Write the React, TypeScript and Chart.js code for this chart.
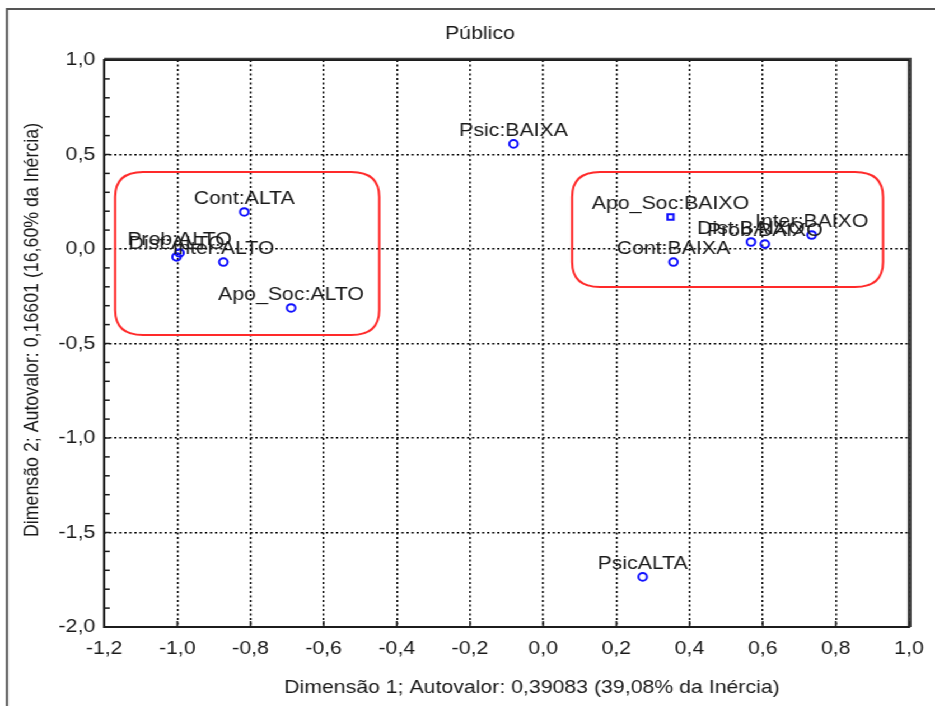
import { useEffect, useRef } from 'react';
import { Chart, registerables } from 'chart.js';

Chart.register(...registerables);

// Category points of the correspondence analysis (Dimensão 1 × Dimensão 2)
const categories = [
  'Psic:BAIXA',
  'Cont:ALTA',
  'Prob:ALTO',
  'Dist:ALTO',
  'Inter:ALTO',
  'Apo_Soc:ALTO',
  'Apo_Soc:BAIXO',
  'Cont:BAIXA',
  'Dist:BAIXO',
  'Prob:BAIXO',
  'Inter:BAIXO',
  'PsicALTA',
];
const dim1 = [-0.081, -0.817, -0.994, -1.002, -0.874, -0.689, 0.348, 0.356, 0.568, 0.606, 0.734, 0.272];
const dim2 = [0.556, 0.196, -0.021, -0.042, -0.069, -0.312, 0.169, -0.069, 0.037, 0.026, 0.074, -1.735];

// Group outlines, in axis units: [xMin, xMax, yMax, yMin]
const groupLow = [-1.17, -0.448, 0.407, -0.455];
const groupHigh = [0.079, 0.929, 0.407, -0.201];

const chartTitle = 'Público';
const xTitle = 'Dimensão 1; Autovalor: 0,39083 (39,08% da Inércia)';
const yTitle = 'Dimensão 2; Autovalor: 0,16601 (16,60% da Inércia)';

const FONT = "'Liberation Sans', Arial, sans-serif";
const STRETCH = 1.1198;
const W = 835;
const H = 706;

const fmt = (v: number) => {
  const r = Math.abs(v) < 1e-9 ? 0 : v;
  return r.toFixed(1).replace('.', ',');
};
const isHalf = (v: number) => Math.abs(v * 2 - Math.round(v * 2)) < 1e-6;

function roundRect(ctx: CanvasRenderingContext2D, x0: number, y0: number, x1: number, y1: number, r: number) {
  ctx.beginPath();
  ctx.moveTo(x0 + r, y0);
  ctx.lineTo(x1 - r, y0);
  ctx.quadraticCurveTo(x1, y0, x1, y0 + r);
  ctx.lineTo(x1, y1 - r);
  ctx.quadraticCurveTo(x1, y1, x1 - r, y1);
  ctx.lineTo(x0 + r, y1);
  ctx.quadraticCurveTo(x0, y1, x0, y1 - r);
  ctx.lineTo(x0, y0 + r);
  ctx.quadraticCurveTo(x0, y0, x0 + r, y0);
  ctx.closePath();
}

const decorations = {
  id: 'decorations',
  beforeDraw(chart: any) {
    const { ctx, width, height } = chart;
    ctx.save();
    ctx.fillStyle = '#ffffff';
    ctx.fillRect(0, 0, width, height);
    // outer panel frame
    ctx.strokeStyle = '#555555';
    ctx.lineWidth = 2;
    ctx.beginPath();
    ctx.moveTo(6.2, height);
    ctx.lineTo(6.2, 9);
    ctx.lineTo(width, 9);
    ctx.stroke();
    ctx.restore();
  },
  afterDatasetsDraw(chart: any) {
    const { ctx, chartArea: a, scales } = chart;
    const xs = scales.x;
    const ys = scales.y;
    ctx.save();

    // red group outlines
    ctx.strokeStyle = '#ff2a2a';
    ctx.lineWidth = 2;
    for (const g of [groupLow, groupHigh]) {
      roundRect(
        ctx,
        xs.getPixelForValue(g[0]),
        ys.getPixelForValue(g[2]),
        xs.getPixelForValue(g[1]),
        ys.getPixelForValue(g[3]),
        25,
      );
      ctx.stroke();
    }

    // point labels, centred above each marker
    const meta = chart.getDatasetMeta(0);
    ctx.fillStyle = '#1a1a1a';
    ctx.font = `19px ${FONT}`;
    ctx.textAlign = 'center';
    ctx.textBaseline = 'alphabetic';
    meta.data.forEach((el: any, i: number) => {
      ctx.fillText(categories[i], el.x, el.y - 8);
    });

    // plot frame
    ctx.strokeStyle = '#1c1c1c';
    ctx.lineWidth = 2;
    ctx.strokeRect(a.left, a.top, a.right - a.left, a.bottom - a.top);
    ctx.strokeStyle = '#444444';
    ctx.lineWidth = 1.5;
    ctx.beginPath();
    ctx.moveTo(a.left, a.top - 1.5);
    ctx.lineTo(a.right + 1.5, a.top - 1.5);
    ctx.lineTo(a.right + 1.5, a.bottom);
    ctx.stroke();

    // inner tick marks
    ctx.strokeStyle = '#1c1c1c';
    ctx.lineWidth = 1.5;
    ys.ticks.forEach((t: any) => {
      const py = ys.getPixelForValue(t.value);
      ctx.beginPath();
      ctx.moveTo(a.left, py);
      ctx.lineTo(a.left + 5, py);
      ctx.stroke();
    });
    xs.ticks.forEach((t: any) => {
      const px = xs.getPixelForValue(t.value);
      ctx.beginPath();
      ctx.moveTo(px, a.bottom);
      ctx.lineTo(px, a.bottom - 6);
      ctx.stroke();
    });

    // titles
    ctx.fillStyle = '#1a1a1a';
    ctx.textAlign = 'center';
    ctx.textBaseline = 'middle';
    ctx.font = `19px ${FONT}`;
    ctx.fillText(chartTitle, 428.6, 34);
    ctx.fillText(xTitle, 475, 688);
    ctx.save();
    ctx.translate(29.5, 330);
    ctx.rotate(-Math.PI / 2);
    ctx.font = `17.8px ${FONT}`;
    ctx.fillText(yTitle, 0, 0);
    ctx.restore();

    ctx.restore();
  },
};

export default function App() {
  const ref = useRef<HTMLCanvasElement>(null);

  useEffect(() => {
    if (!ref.current) return;
    const points = dim1.map((x, i) => ({ x, y: dim2[i] }));
    const chart = new Chart(ref.current, {
      type: 'scatter',
      data: {
        datasets: [
          {
            data: points,
            pointStyle: (c: any) => (categories[c.dataIndex] === 'Apo_Soc:BAIXO' ? 'rect' : 'circle'),
            pointRadius: 3.8,
            pointBorderWidth: 2,
            borderColor: '#1010ff',
            backgroundColor: 'rgba(255,255,255,0)',
          },
        ],
      },
      options: {
        animation: false,
        responsive: true,
        maintainAspectRatio: false,
        events: [],
        layout: { padding: { left: 0, right: 19, top: 60, bottom: 0 } },
        plugins: {
          legend: { display: false },
          tooltip: { enabled: false },
          title: { display: false },
        },
        scales: {
          x: {
            type: 'linear',
            min: -1.2,
            max: 1.0,
            afterFit: (s: any) => {
              s.height = 79;
            },
            ticks: {
              stepSize: 0.2,
              autoSkip: false,
              maxRotation: 0,
              padding: 10,
              color: '#1a1a1a',
              font: { family: FONT, size: 19 },
              callback: (v: any) => fmt(Number(v)),
            },
            grid: { color: '#000000', lineWidth: 1.5, drawTicks: false },
            border: { display: false, dash: [2, 2.5] },
          },
          y: {
            type: 'linear',
            min: -2.0,
            max: 1.0,
            afterFit: (s: any) => {
              s.width = 93;
            },
            ticks: {
              stepSize: 0.1,
              autoSkip: false,
              padding: 8,
              color: '#1a1a1a',
              font: { family: FONT, size: 19 },
              callback: (v: any) => (isHalf(Number(v)) ? fmt(Number(v)) : ''),
            },
            grid: {
              color: (c: any) => (c.tick && isHalf(c.tick.value) ? '#000000' : 'rgba(0,0,0,0)'),
              lineWidth: 1.5,
              drawTicks: false,
            },
            border: { display: false, dash: [2, 2.5] },
          },
        },
      },
      plugins: [decorations],
    });
    return () => chart.destroy();
  }, []);

  return (
    <div
      style={{
        position: 'absolute',
        left: 0,
        top: 0,
        width: W,
        height: H,
        transform: `scaleX(${STRETCH})`,
        transformOrigin: '0 0',
        background: '#ffffff',
      }}
    >
      <canvas ref={ref} />
    </div>
  );
}
